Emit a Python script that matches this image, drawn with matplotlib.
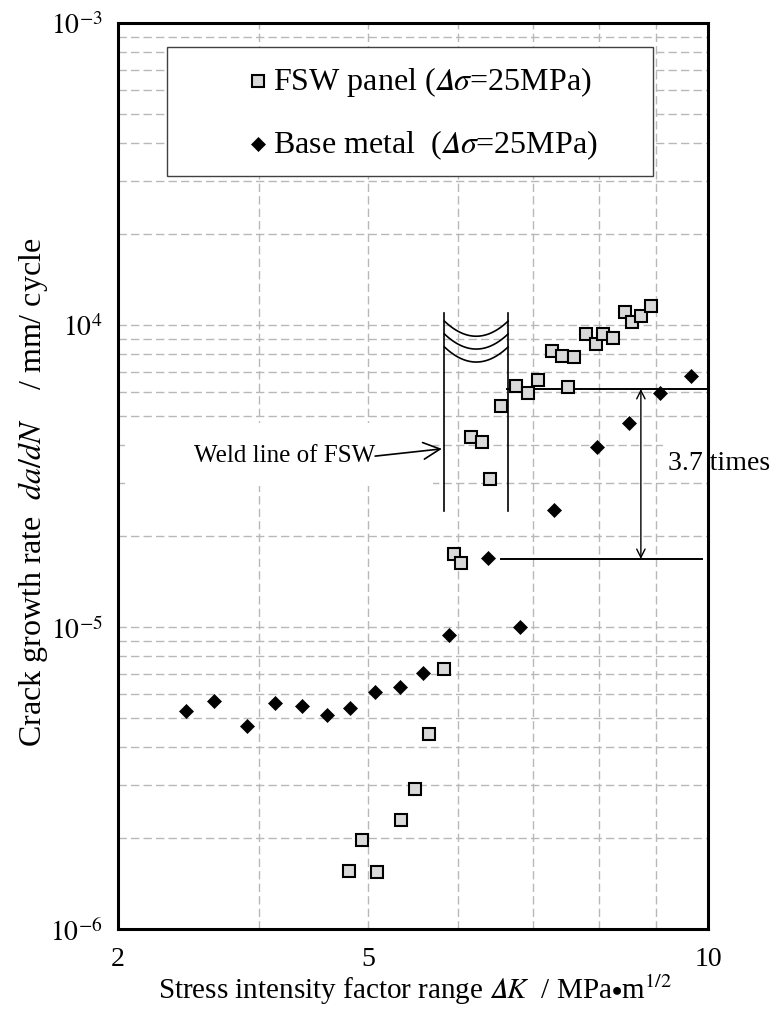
import numpy as np
import matplotlib
matplotlib.use('Agg')
import matplotlib.pyplot as plt
from matplotlib.patches import Rectangle, FancyArrowPatch
from matplotlib.ticker import FixedLocator, FixedFormatter, NullFormatter, LogLocator

plt.rcParams['font.family'] = 'serif'
plt.rcParams['font.serif'] = ['Liberation Serif', 'DejaVu Serif']
plt.rcParams['mathtext.fontset'] = 'stix'

# ---------------- data ----------------
fsw_dk = [4.81, 4.94, 5.09, 5.34, 5.50, 5.66, 5.83, 5.95, 6.04, 6.17, 6.31, 6.41,
          6.56, 6.76, 6.93, 7.07, 7.27, 7.43, 7.52, 7.61, 7.79, 7.95, 8.07, 8.23,
          8.44, 8.57, 8.72, 8.90]
fsw_rate = [1.56e-6, 1.97e-6, 1.55e-6, 2.29e-6, 2.91e-6, 4.42e-6, 7.24e-6, 1.75e-5,
            1.63e-5, 4.25e-5, 4.11e-5, 3.09e-5, 5.41e-5, 6.30e-5, 5.95e-5, 6.58e-5,
            8.18e-5, 7.91e-5, 6.22e-5, 7.82e-5, 9.31e-5, 8.65e-5, 9.31e-5, 9.04e-5,
            1.10e-4, 1.02e-4, 1.07e-4, 1.16e-4]

base_dk = [3.45, 3.65, 3.90, 4.13, 4.37, 4.60, 4.82, 5.07, 5.33, 5.59, 5.90, 6.38,
           6.82, 7.30, 7.97, 8.51, 9.06, 9.65]
base_rate = [5.26e-6, 5.69e-6, 4.70e-6, 5.59e-6, 5.46e-6, 5.10e-6, 5.38e-6, 6.11e-6,
             6.34e-6, 7.03e-6, 9.43e-6, 1.69e-5, 1.00e-5, 2.44e-5, 3.94e-5, 4.74e-5,
             5.95e-5, 6.76e-5]

x_ticks = [3, 5, 10]
x_tick_labels = ['2', '5', '10']
x_minor = [4, 6, 7, 8, 9]
y_ticks = [1e-6, 1e-5, 1e-4, 1e-3]
y_tick_labels = [r'$10^{-6}$', r'$10^{-5}$', r'$10^{4}$', r'$10^{-3}$']

DELTA_IT = '\U0001D6E5'  # mathematical italic capital delta
legend_labels = ['FSW panel ($' + DELTA_IT + r'\sigma$=25MPa)',
                 'Base metal  ($' + DELTA_IT + r'\sigma$=25MPa)']
x_label = 'Stress intensity factor range $' + DELTA_IT + r'K$  / MPa$\bullet$m$^{1/2}$'
y_label = r'Crack growth rate  $da/dN$    / mm/ cycle'

# annotation geometry (data coordinates)
weld_x = [5.84, 6.65]
weld_y = [2.42e-5, 1.096e-4]
wave_end_y = [1.03e-4, 9.34e-5, 8.46e-5]
wave_dip = 0.05  # decades
upper_rate, lower_rate = 6.14e-5, 1.68e-5

# ---------------- figure ----------------
fig = plt.figure(figsize=(7.78, 10.12), dpi=100)
ax = fig.add_axes([118 / 778, 1 - 930 / 1012, 590 / 778, 906 / 1012])
ax.set_xscale('log')
ax.set_yscale('log')
ax.set_xlim(3, 10)
ax.set_ylim(1e-6, 1e-3)

ax.xaxis.set_major_locator(FixedLocator(x_ticks))
ax.xaxis.set_major_formatter(FixedFormatter(x_tick_labels))
ax.xaxis.set_minor_locator(FixedLocator(x_minor))
ax.xaxis.set_minor_formatter(NullFormatter())
ax.yaxis.set_major_locator(FixedLocator(y_ticks))
ax.yaxis.set_major_formatter(FixedFormatter(y_tick_labels))
ax.yaxis.set_minor_locator(LogLocator(base=10, subs=np.arange(2, 10)))
ax.yaxis.set_minor_formatter(NullFormatter())

ax.set_axisbelow(True)
ax.grid(True, which='both', color='#b8b8b8', linestyle=(0, (6, 3)), linewidth=1.0)
ax.tick_params(which='both', length=0)
ax.tick_params(axis='x', labelsize=20, pad=12)
ax.tick_params(axis='y', labelsize=20, pad=11)
for s in ax.spines.values():
    s.set_linewidth(2.2)
    s.set_color('black')
    s.set_zorder(6)

# data
ax.plot(fsw_dk, fsw_rate, linestyle='none', marker='s', ms=9.3, mew=1.5,
        mfc='#d9d9d9', mec='black', zorder=4)
ax.plot(base_dk, base_rate, linestyle='none', marker='D', ms=7.3, mew=0.5,
        mfc='black', mec='black', zorder=4)

# white boxes behind annotation text
ax.add_patch(Rectangle((0.012, 0.489), 0.522, 0.069, transform=ax.transAxes,
                       facecolor='white', edgecolor='none', zorder=1))
ax.add_patch(Rectangle((0.924, 0.497), 0.076, 0.061, transform=ax.transAxes,
                       facecolor='white', edgecolor='none', zorder=1))

# weld lines
for wx in weld_x:
    ax.plot([wx, wx], weld_y, color='black', lw=1.2, zorder=3)
t = np.linspace(0, 1, 60)
lx = np.log10(weld_x[0]) + t * (np.log10(weld_x[1]) - np.log10(weld_x[0]))
for ye in wave_end_y:
    ly = np.log10(ye) - wave_dip * 4 * t * (1 - t)
    ax.plot(10 ** lx, 10 ** ly, color='black', lw=1.2, zorder=3)

ax.text(0.128, 0.5166, 'Weld line of FSW', transform=ax.transAxes, fontsize=18,
        ha='left', va='baseline', zorder=5)
ax.add_patch(FancyArrowPatch((5.07, 3.68e-5), (5.81, 3.89e-5),
                             arrowstyle='->,head_length=1.2,head_width=0.6',
                             mutation_scale=10, lw=1.2, color='black',
                             shrinkA=0, shrinkB=0, zorder=5))

# 3.7 times annotation
ax.plot([6.63, 10.0], [upper_rate, upper_rate], color='black', lw=1.4, zorder=3)
ax.plot([6.55, 9.87], [lower_rate, lower_rate], color='black', lw=1.4, zorder=3)
ax.add_patch(FancyArrowPatch((8.72, upper_rate), (8.72, lower_rate),
                             arrowstyle='<->,head_length=0.6,head_width=0.3',
                             mutation_scale=10, lw=1.0, color='black',
                             shrinkA=0, shrinkB=0, zorder=5))
ax.text(0.932, 0.5077, '3.7 times', transform=ax.transAxes, fontsize=20,
        ha='left', va='baseline', zorder=7, clip_on=False)

# legend (manual)
ax.add_patch(Rectangle((0.0831, 0.8311), 0.8237, 0.1424, transform=ax.transAxes,
                       facecolor='white', edgecolor='#404040', lw=1.0, zorder=7))
ax.plot([0.2373], [0.936], transform=ax.transAxes, linestyle='none', marker='s',
        ms=9.0, mew=1.5, mfc='#d9d9d9', mec='black', zorder=8, clip_on=False)
ax.plot([0.2373], [0.8664], transform=ax.transAxes, linestyle='none', marker='D',
        ms=7.0, mew=0.5, mfc='black', mec='black', zorder=8, clip_on=False)
ax.text(0.2627, 0.936, legend_labels[0], transform=ax.transAxes, fontsize=23,
        ha='left', va='center', zorder=8)
ax.text(0.2627, 0.8664, legend_labels[1], transform=ax.transAxes, fontsize=23,
        ha='left', va='center', zorder=8)

# axis labels
fig.text(415 / 778, 1 - 999 / 1012, x_label, fontsize=21, ha='center', va='baseline')
fig.text(33 / 778, 1 - 492 / 1012, y_label, fontsize=23, ha='center', va='center',
         rotation=90)

fig.savefig('out.png', dpi=100)
